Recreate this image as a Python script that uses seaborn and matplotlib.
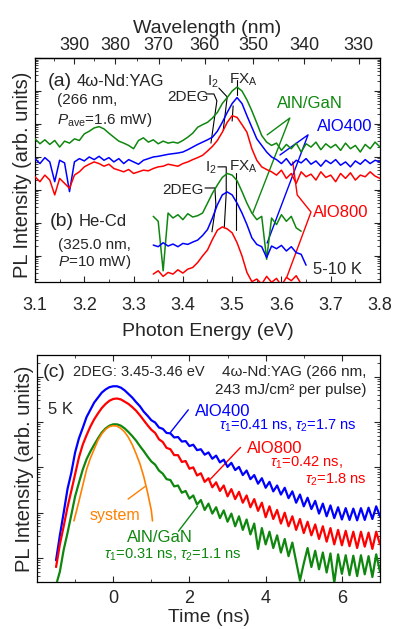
import numpy as np
import matplotlib
matplotlib.use("Agg")
import matplotlib.pyplot as plt
from matplotlib.ticker import LogLocator, NullFormatter, MultipleLocator, FixedLocator
import seaborn as sns

# ---- panel (a)/(b): PL spectra, log10(intensity) ----
energy_a = np.round(np.arange(3.10, 3.805, 0.01), 2)
green_a = [3.55, 3.40, 3.52, 3.38, 3.50, 3.30, 3.48, 3.42, 3.55, 3.50,
           3.70, 3.78, 3.88, 3.92, 3.85, 3.72, 3.60, 3.48, 3.42, 3.35,
           3.25, 3.50, 3.58, 3.45, 3.52, 3.40, 3.48, 3.42, 3.45, 3.42,
           3.50, 3.60, 3.72, 3.90, 3.98, 4.05, 4.18, 4.35, 4.62, 4.80,
           5.00, 5.12, 5.00, 4.73, 4.40, 4.03, 3.65, 3.45, 3.35, 3.42,
           3.20, 3.38, 3.25, 3.42, 3.15, 3.40, 3.30, 3.45, 3.22, 3.40,
           3.28, 3.38, 3.20, 3.42, 3.25, 3.35, 3.15, 3.38, 3.25, 3.45, 3.30]
blue_a = [2.95, 2.80, 2.98, 2.85, 2.25, 2.90, 2.82, 1.95, 2.85, 2.95,
          2.88, 3.00, 2.92, 3.02, 2.90, 2.98, 2.85, 2.95, 2.80, 2.92,
          2.85, 2.78, 2.90, 2.95, 3.00, 3.02, 3.05, 3.08, 3.10, 3.12,
          3.15, 3.22, 3.30, 3.38, 3.45, 3.52, 3.60, 3.78, 4.05, 4.35,
          4.62, 4.80, 4.62, 4.25, 3.90, 3.55, 3.35, 3.15, 3.00, 2.92,
          2.80, 2.95, 2.75, 2.90, 2.82, 2.95, 2.78, 2.88, 2.72, 2.90,
          2.80, 2.92, 2.75, 2.85, 2.70, 2.88, 2.78, 2.92, 2.80, 2.90, 2.85]
red_a = [2.40, 2.25, 2.45, 2.30, 1.85, 2.35, 2.20, 2.05, 2.45, 2.55,
         2.70, 2.78, 2.85, 2.80, 2.72, 2.78, 2.65, 2.60, 2.55, 2.62,
         2.50, 2.55, 2.60, 2.58, 2.65, 2.70, 2.72, 2.78, 2.75, 2.72,
         2.80, 2.85, 2.92, 2.98, 3.05, 3.18, 3.32, 3.50, 3.75, 4.05,
         4.25, 4.20, 3.98, 3.75, 3.25, 2.90, 2.70, 2.62, 2.55, 2.45,
         2.60, 2.35, 2.50, 2.20, 2.55, 2.40, 2.48, 2.30, 2.55, 2.38,
         2.45, 2.25, 2.50, 2.35, 2.52, 2.30, 2.45, 2.40, 2.55, 2.42, 2.35]

energy_b = np.round(np.arange(3.34, 3.655, 0.01), 2)
green_b = [1.20, 1.05, -0.45, 1.30, 1.15, 1.25, 1.10, 1.28, 1.18, 1.22,
           1.30, 1.60, 1.90, 2.15, 2.38, 2.50, 2.45, 2.28, 1.95, 1.60,
           1.30, 1.10, 1.20, -0.10, 1.15, 0.95, 1.25, 1.05, 1.20, 0.85,
           0.75, np.nan]
blue_b = [0.33, 0.28, 0.40, 0.30, 0.36, 0.28, 0.38, 0.35, 0.42, 0.48,
          0.62, 0.80, 1.15, 1.55, 1.85, 1.94, 1.85, 1.60, 1.30, 0.95,
          0.55, 0.35, 0.28, -0.05, 0.30, 0.22, 0.32, 0.15, 0.28, 0.10,
          0.05, -0.28]
red_b = [-0.55, -0.45, -0.62, -0.50, -0.55, -0.42, -0.52, -0.40, -0.35, -0.20,
         0.00, 0.18, 0.50, 0.78, 0.88, 0.82, 0.70, 0.40, 0.00, -0.50,
         -0.78, -0.70, -0.85, -0.62, -0.80, -0.68, -0.90, -0.65, -0.75, -0.60,
         -0.85, -0.95]

# ---- panel (c): PL decay, log10(intensity) ----
time_c = np.round(np.arange(-1.5, 7.05, 0.1), 1)
blue_c = [-0.05, 0.50, 1.00, 1.52, 1.88, 2.33, 2.64, 2.87, 3.11, 3.27,
          3.43, 3.54, 3.65, 3.72, 3.77, 3.79, 3.79, 3.76, 3.70, 3.62,
          3.54, 3.44, 3.35, 3.23, 3.14, 3.04, 2.99, 2.88, 2.85, 2.76,
          2.75, 2.66, 2.67, 2.57, 2.58, 2.47, 2.50, 2.38, 2.40, 2.28,
          2.33, 2.19, 2.26, 2.11, 2.17, 2.01, 2.10, 1.94, 2.01, 1.83,
          1.93, 1.74, 1.83, 1.64, 1.76, 1.55, 1.68, 1.47, 1.60, 1.40,
          1.55, 1.32, 1.47, 1.22, 1.40, 1.14, 1.33, 1.08, 1.26, 0.98,
          1.20, 0.92, 1.16, 0.88, 1.12, 0.85, 1.10, 0.84, 1.09, 0.83,
          1.10, 0.84, 1.11, 0.86, 1.14, 0.92]
red_c = [-0.20, 0.30, 0.70, 1.12, 1.48, 1.85, 2.22, 2.50, 2.71, 2.90,
         3.06, 3.19, 3.31, 3.40, 3.47, 3.51, 3.52, 3.50, 3.45, 3.40,
         3.33, 3.25, 3.15, 3.04, 2.93, 2.83, 2.76, 2.62, 2.56, 2.43,
         2.40, 2.27, 2.27, 2.12, 2.14, 1.97, 2.00, 1.82, 1.87, 1.68,
         1.76, 1.56, 1.67, 1.48, 1.60, 1.36, 1.52, 1.30, 1.46, 1.22,
         1.38, 1.12, 1.30, 1.04, 1.22, 0.90, 1.14, 0.86, 1.06, 0.76,
         1.00, 0.70, 0.92, 0.62, 0.86, 0.55, 0.80, 0.50, 0.74, 0.42,
         0.70, 0.36, 0.66, 0.30, 0.62, 0.28, 0.60, 0.26, 0.58, 0.22,
         0.58, 0.25, 0.56, 0.20, 0.58, 0.30]
green_c = [-0.60, -0.30, 0.18, 0.55, 0.95, 1.36, 1.66, 1.95, 2.18, 2.35,
           2.50, 2.64, 2.77, 2.86, 2.92, 2.95, 2.95, 2.92, 2.86, 2.78,
           2.69, 2.59, 2.47, 2.36, 2.24, 2.13, 2.06, 1.93, 1.86, 1.74,
           1.72, 1.58, 1.60, 1.44, 1.48, 1.31, 1.38, 1.18, 1.28, 1.06,
           1.20, 0.98, 1.12, 0.88, 1.05, 0.80, 0.98, 0.70, 0.92, 0.62,
           0.85, 0.52, 0.76, 0.20, 0.66, 0.30, 0.58, 0.22, 0.50, 0.12,
           0.42, 0.04, 0.34, -0.08, -0.50, -0.12, 0.22, -0.20, 0.16, -0.25,
           0.12, -0.32, 0.10, -0.55, 0.08, -0.35, 0.06, -0.38, 0.05, -0.40,
           0.06, -0.36, 0.04, -0.42, 0.08, -0.30]
time_sys = [-1.03, -0.9, -0.8, -0.7, -0.6, -0.5, -0.4, -0.3, -0.2, -0.1, 0.0,
            0.1, 0.2, 0.3, 0.4, 0.5, 0.6, 0.7, 0.8, 0.9, 1.0, 1.03]
system_c = [0.82, 1.25, 1.60, 1.95, 2.20, 2.40, 2.60, 2.74, 2.84, 2.90, 2.92,
            2.91, 2.86, 2.78, 2.66, 2.50, 2.30, 2.08, 1.80, 1.45, 1.05, 0.82]

GREEN = "#0f870f"
BLUE = "#0000ff"
RED = "#ff0000"
ORANGE = "#ff8000"

sns.set_style("ticks", {"xtick.direction": "in", "ytick.direction": "in"})
plt.rcParams['font.family'] = ['Liberation Sans', 'DejaVu Sans']
plt.rcParams['mathtext.fontset'] = 'custom'
plt.rcParams['mathtext.rm'] = 'Liberation Sans'
plt.rcParams['mathtext.it'] = 'Liberation Sans:italic'
plt.rcParams['axes.linewidth'] = 0.9
plt.rcParams['axes.edgecolor'] = 'black'

fig = plt.figure(figsize=(3.95, 6.29), dpi=100)
ax1 = fig.add_axes([35 / 395, 1 - 282 / 629, 345 / 395, 224 / 629])
ax2 = fig.add_axes([37 / 395, 1 - 582 / 629, 343 / 395, 227 / 629])


def curve(ax, x, logy, color, lw):
    sns.lineplot(x=x, y=10 ** np.asarray(logy, dtype=float), ax=ax, color=color,
                 lw=lw, estimator=None, errorbar=None, zorder=3)


def leader(ax, xs, logys, color, lw=0.8):
    ax.plot(xs, 10 ** np.asarray(logys), color=color, lw=lw, zorder=2)


def style_log_axis(ax):
    ax.set_yscale('log')
    ax.yaxis.set_major_locator(LogLocator(base=10, numticks=20))
    ax.yaxis.set_minor_locator(LogLocator(base=10, subs=np.arange(2, 10), numticks=100))
    ax.yaxis.set_major_formatter(NullFormatter())
    ax.yaxis.set_minor_formatter(NullFormatter())
    ax.tick_params(which='major', length=4.5, width=0.8, labelsize=13, right=True)
    ax.tick_params(which='minor', length=2.5, width=0.6, right=True)


# ---------------- panel (a)/(b) ----------------
for xs, ys, col in [(energy_a, green_a, GREEN), (energy_a, blue_a, BLUE), (energy_a, red_a, RED)]:
    curve(ax1, xs, ys, col, 1.1)
for xs, ys, col in [(energy_b, green_b, GREEN), (energy_b, blue_b, BLUE), (energy_b, red_b, RED)]:
    curve(ax1, xs, ys, col, 1.1)

ax1.set_xlim(3.1, 3.8)
ax1.set_ylim(10 ** -0.79, 10 ** 6.0)
style_log_axis(ax1)
ax1.xaxis.set_major_locator(MultipleLocator(0.1))
ax1.xaxis.set_minor_locator(MultipleLocator(0.05))
ax1.tick_params(axis='x', which='both', top=False, pad=10.5)
ax1.set_xlabel("Photon Energy (eV)", fontsize=14)
ax1.xaxis.set_label_coords(0.5, -0.183)
ax1.set_ylabel("PL Intensity (arb. units)", fontsize=14.5)
ax1.yaxis.set_label_coords(-0.008, 0.478)

hc = 1239.84
sec = ax1.secondary_xaxis('top', functions=(lambda e: hc / np.clip(e, 1e-3, None),
                                            lambda w: hc / np.clip(w, 1e-3, None)))
sec.xaxis.set_major_locator(FixedLocator(np.arange(330, 400, 10)))
sec.xaxis.set_minor_locator(FixedLocator(np.arange(325, 400, 5)))
sec.tick_params(which='major', direction='in', length=4.5, width=0.8, labelsize=13, pad=3)
sec.tick_params(which='minor', direction='in', length=2.5, width=0.6)
sec.set_xlabel("Wavelength (nm)", fontsize=14, labelpad=3)

# leader lines for peak assignments
leader(ax1, [3.447, 3.463, 3.469, 3.457], [4.91, 4.91, 4.70, 3.42], 'black')
leader(ax1, [3.473, 3.490, 3.482], [5.09, 4.82, 3.82], 'black')
leader(ax1, [3.510, 3.510], [5.33, 4.88], 'black')
leader(ax1, [3.502, 3.500], [4.55, 4.09], 'black')
leader(ax1, [3.445, 3.465, 3.467, 3.459], [2.06, 2.06, 1.55, 0.73], 'black')
leader(ax1, [3.471, 3.488, 3.488, 3.484], [2.70, 2.70, 1.91, 0.85], 'black')
leader(ax1, [3.508, 3.508], [2.52, 0.79], 'black')
# sample label leaders
leader(ax1, [3.571, 3.617, 3.542], [3.67, 4.18, 1.30], GREEN, 1.0)
leader(ax1, [3.597, 3.654, 3.571], [3.06, 3.67, 0.39], BLUE, 1.0)
leader(ax1, [3.623, 3.632, 3.660, 3.611], [2.85, 1.85, 1.33, -0.64], RED, 1.0)

t1 = ax1.transAxes
ax1.text(0.038, 0.897, "(a)", fontsize=14, va='center', transform=t1)
ax1.text(0.122, 0.897, "4\u03c9-Nd:YAG", fontsize=12, va='center', transform=t1)
ax1.text(0.064, 0.8125, "(266 nm,", fontsize=11, va='center', transform=t1)
ax1.text(0.064, 0.723, r"$P_{\rm ave}$=1.6 mW)", fontsize=11, va='center', transform=t1)
ax1.text(0.043, 0.268, "(b)", fontsize=14, va='center', transform=t1)
ax1.text(0.125, 0.268, "He-Cd", fontsize=12, va='center', transform=t1)
ax1.text(0.067, 0.165, "(325.0 nm,", fontsize=11, va='center', transform=t1)
ax1.text(0.067, 0.089, r"$P$=10 mW)", fontsize=11, va='center', transform=t1)
ax1.text(0.797, 0.799, "AlN/GaN", fontsize=12, color=GREEN, ha='center', va='center', transform=t1)
ax1.text(0.899, 0.692, "AlO400", fontsize=12, color=BLUE, ha='center', va='center', transform=t1)
ax1.text(0.887, 0.3125, "AlO800", fontsize=12, color=RED, ha='center', va='center', transform=t1)
ax1.text(0.878, 0.054, "5-10 K", fontsize=12, ha='center', va='center', transform=t1)
ax1.text(0.442, 0.826, "2DEG", fontsize=11, ha='center', va='center', transform=t1)
ax1.text(0.516, 0.893, r"I$_2$", fontsize=11, ha='center', va='center', transform=t1)
ax1.text(0.603, 0.902, r"FX$_{\rm A}$", fontsize=11, ha='center', va='center', transform=t1)
ax1.text(0.429, 0.411, "2DEG", fontsize=11, ha='center', va='center', transform=t1)
ax1.text(0.510, 0.509, r"I$_2$", fontsize=11, ha='center', va='center', transform=t1)
ax1.text(0.603, 0.513, r"FX$_{\rm A}$", fontsize=11, ha='center', va='center', transform=t1)

# ---------------- panel (c) ----------------
curve(ax2, time_c, blue_c, BLUE, 1.6)
curve(ax2, time_c, red_c, RED, 1.6)
curve(ax2, time_c, green_c, GREEN, 1.6)
curve(ax2, time_sys, system_c, ORANGE, 1.2)

ax2.set_xlim(-2, 7)
ax2.set_ylim(10 ** -0.53, 10 ** 4.48)
style_log_axis(ax2)
ax2.xaxis.set_major_locator(FixedLocator([0, 2, 4, 6]))
ax2.xaxis.set_minor_locator(MultipleLocator(1))
ax2.tick_params(axis='x', which='both', top=True, pad=5.5)
ax2.set_xlabel("Time (ns)", fontsize=14)
ax2.xaxis.set_label_coords(0.5, -0.118)
ax2.set_ylabel("PL Intensity (arb. units)", fontsize=14.5)
ax2.yaxis.set_label_coords(-0.008, 0.5)

leader(ax2, [1.97, 1.50], [3.27, 2.77], BLUE, 1.0)
leader(ax2, [3.34, 2.55], [2.44, 1.74], RED, 1.0)
leader(ax2, [0.39, 0.84], [1.30, 1.58], ORANGE, 1.0)
leader(ax2, [1.71, 2.21], [0.59, 1.14], GREEN, 1.0)

t2 = ax2.transAxes
ax2.text(0.017, 0.925, "(c)", fontsize=14, va='center', transform=t2)
ax2.text(0.105, 0.925, "2DEG: 3.45-3.46 eV", fontsize=10.5, va='center', transform=t2)
ax2.text(0.539, 0.925, "4\u03c9-Nd:YAG (266 nm,", fontsize=11, va='center', transform=t2)
ax2.text(0.519, 0.846, "243 mJ/cm\u00b2 per pulse)", fontsize=11, va='center', transform=t2)
ax2.text(0.032, 0.762, "5 K", fontsize=12, va='center', transform=t2)
ax2.text(0.542, 0.752, "AlO400", fontsize=12, color=BLUE, ha='center', va='center', transform=t2)
ax2.text(0.732, 0.686, r"$\tau_{\mathit{1}}$=0.41 ns, $\tau_{\mathit{2}}$=1.7 ns", fontsize=10.5,
         color=BLUE, ha='center', va='center', transform=t2)
ax2.text(0.694, 0.590, "AlO800", fontsize=12, color=RED, ha='center', va='center', transform=t2)
ax2.text(0.679, 0.524, r"$\tau_{\mathit{1}}$=0.42 ns,", fontsize=10.5, color=RED, va='center', transform=t2)
ax2.text(0.781, 0.449, r"$\tau_{\mathit{2}}$=1.8 ns", fontsize=10.5, color=RED, va='center', transform=t2)
ax2.text(0.227, 0.295, "system", fontsize=11.5, color=ORANGE, ha='center', va='center', transform=t2)
ax2.text(0.359, 0.198, "AlN/GaN", fontsize=12, color=GREEN, ha='center', va='center', transform=t2)
ax2.text(0.397, 0.119, r"$\tau_{\mathit{1}}$=0.31 ns, $\tau_{\mathit{2}}$=1.1 ns", fontsize=10.5,
         color=GREEN, ha='center', va='center', transform=t2)

fig.savefig("out.png", dpi=100)
